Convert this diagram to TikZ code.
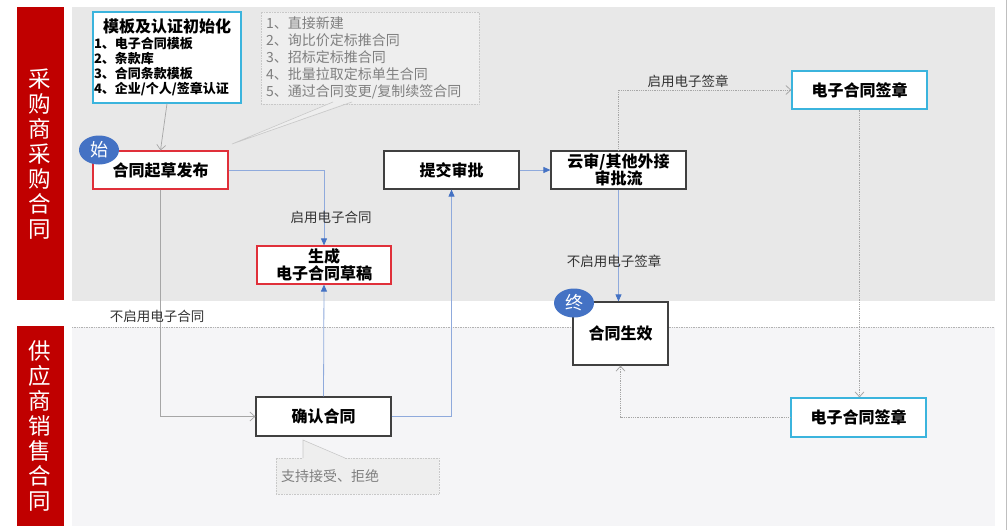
\documentclass[tikz,border=0pt]{standalone}
\usepackage{fontspec}
\setmainfont{Noto Sans CJK SC}
\usetikzlibrary{shapes.geometric,arrows.meta}
\definecolor{bandred}{HTML}{C00000}
\definecolor{topgray}{HTML}{E8E8E8}
\definecolor{lowgray}{HTML}{F5F5F7}
\definecolor{boxred}{HTML}{E0303A}
\definecolor{boxcyan}{HTML}{3BB4DD}
\definecolor{bluefill}{HTML}{4472C4}
\definecolor{blueline}{HTML}{8FAADC}
\definecolor{notefill}{HTML}{EEEEEE}
\definecolor{notedraw}{HTML}{C8C8C8}
\definecolor{labelc}{HTML}{333333}
\definecolor{notetext}{HTML}{7F7F7F}
\begin{document}
\begin{tikzpicture}[x=1pt,y=-1pt,
  procbox/.style={draw=#1, line width=1.2pt, fill=white, font=\fontsize{16}{18}\selectfont\bfseries, align=center, inner sep=1pt},
  procbox/.default=black!75,
  lbl/.style={font=\fontsize{13.5}{15}\selectfont, text=labelc, inner sep=0pt},
  notebox/.style={draw=notedraw, densely dotted, fill=notefill, line width=0.6pt},
  bluearrow/.style={draw=blueline, line width=0.8pt, -{Triangle[length=7pt,width=6pt,fill=bluefill,color=bluefill]}},
  grayarrow/.style={draw=black!35, line width=0.7pt, -{Straight Barb[length=5pt,width=9pt]}},
  dotarrow/.style={draw=black!35, densely dotted, line width=0.8pt, -{Straight Barb[length=5pt,width=9pt]}},
  badge/.style={ellipse, fill=bluefill, text=white, font=\fontsize{18}{18}\selectfont, inner sep=0pt, minimum width=40pt, minimum height=29pt},
  bandtxt/.style={text=white, font=\fontsize{22.5}{25}\selectfont, align=center, inner sep=0pt}
]
\useasboundingbox (0,0) rectangle (1008,530);
\fill[white] (0,0) rectangle (1008,530);
% lanes
\fill[topgray] (72,7) rectangle (995,301);
\fill[lowgray] (72,327) rectangle (995,526);
\draw[black!30, densely dotted, line width=0.7pt] (72,327) -- (995,327);
\draw[black!25, line width=0.6pt] (1006,0) -- (1006,530);
\fill[bandred] (17,7) rectangle (64,300);
\fill[bandred] (17,326) rectangle (64,526);
\node[bandtxt] (lane1) at (40,154) {采\\购\\商\\采\\购\\合\\同};
\node[bandtxt] (lane2) at (40,426) {供\\应\\商\\销\\售\\合\\同};

% callout 1
\coordinate (tip1) at (232,144);
\node[notebox, minimum width=218pt, minimum height=88pt, text width=208pt, align=left, inner sep=5pt,
  font=\fontsize{14}{17}\selectfont, text=notetext] (note1) at (370,58)
  {1、直接新建\\2、询比价定标推合同\\3、招标定标推合同\\4、批量拉取定标单生合同\\5、通过合同变更/复制续签合同};
\fill[notefill] (tip1) -- (333.5,101.2) -- (351.5,101.2) -- cycle;
\draw[notedraw, line width=0.6pt] (333,102) -- (tip1) -- (352,102);

% callout 2
\coordinate (tip2) at (303,440);
\node[notebox, minimum width=163pt, minimum height=36pt, text width=153pt, align=left, inner sep=5pt,
  font=\fontsize{14}{17}\selectfont, text=notetext] (note2) at (357.5,476) {支持接受、拒绝};
\fill[notefill] (tip2) -- (303,458.8) -- (345,458.8) -- cycle;
\draw[notedraw, line width=0.6pt] (303,458) -- (tip2) -- (345,458);

% template box
\node[draw=boxcyan, line width=1.2pt, fill=white, minimum width=148pt, minimum height=91pt,
  text width=146pt, align=left, inner sep=1pt, font=\fontsize{13}{15}\selectfont\bfseries] (tmpl) at (167,57.5)
  {\makebox[146pt]{\fontsize{16}{20}\selectfont 模板及认证初始化}\\[1pt]1、电子合同模板\\2、条款库\\3、合同条款模板\\4、企业/个人/签章认证};

% process boxes
\node[procbox=boxred, minimum width=135pt, minimum height=38pt] (draft) at (160.5,170) {合同起草发布};
\node[procbox, minimum width=135pt, minimum height=38pt] (submit) at (451.5,170) {提交审批};
\node[procbox, minimum width=135pt, minimum height=38pt, font=\fontsize{16}{17}\selectfont\bfseries] (cloud) at (618.5,170) {云审/其他外接\\审批流};
\node[procbox=boxcyan, minimum width=135pt, minimum height=38pt] (esign1) at (859.5,90) {电子合同签章};
\node[procbox=boxred, minimum width=134pt, minimum height=38pt, font=\fontsize{16}{17}\selectfont\bfseries] (gen) at (324,265) {生成\\电子合同草稿};
\node[procbox, minimum width=135pt, minimum height=39pt] (confirm) at (323.5,416.5) {确认合同};
\node[procbox, minimum width=95pt, minimum height=63pt] (effect) at (620.5,333.5) {合同生效};
\node[procbox=boxcyan, minimum width=135pt, minimum height=39pt] (esign2) at (858.5,417.5) {电子合同签章};

% badges
\node[badge] (start) at (99,150) {始};
\node[badge] (end) at (574,303) {终};

% connectors
\draw[grayarrow] (tmpl.south) -- (draft.north);
\draw[bluearrow] (draft.east) -| (gen.north);
\draw[grayarrow] (draft.south) |- (confirm.west);
\draw[bluearrow] (confirm.north) -- (gen.south);
\draw[bluearrow] (confirm.east) -| (submit.south);
\draw[bluearrow] (submit.east) -- (cloud.west);
\draw[bluearrow] (cloud.south) -- (cloud.south |- effect.north);
\draw[dotarrow] (cloud.north) |- (esign1.west);
\draw[dotarrow] (esign1.south) -- (esign1.south |- esign2.north);
\draw[dotarrow] (esign2.west) -| (effect.south);

% labels
\node[lbl] (l1) at (331,217) {启用电子合同};
\node[lbl] (l2) at (157,316) {不启用电子合同};
\node[lbl] (l3) at (614,261) {不启用电子签章};
\node[lbl] (l4) at (688,81) {启用电子签章};
\end{tikzpicture}
\end{document}
